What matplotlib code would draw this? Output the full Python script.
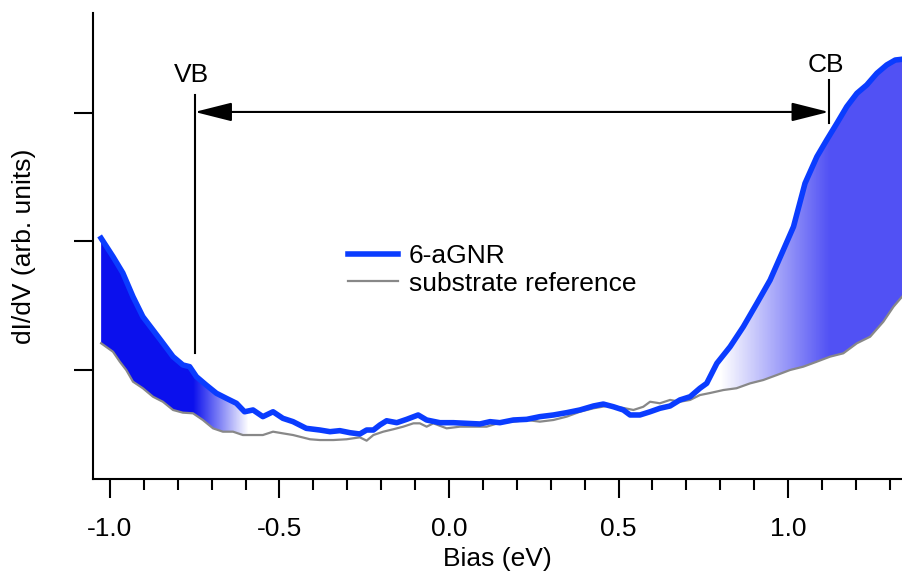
import matplotlib
matplotlib.use("Agg")
import matplotlib.pyplot as plt
import numpy as np
from matplotlib.patches import Polygon

plt.rcParams['font.family'] = ['Liberation Sans', 'DejaVu Sans']

# 6-aGNR spectrum (bias in eV, dI/dV in arb. units)
gnr_bias = [-1.026, -0.991, -0.962, -0.932, -0.903, -0.873, -0.844, -0.814, -0.785, -0.765,
            -0.745, -0.716, -0.686, -0.657, -0.627, -0.603, -0.578, -0.549, -0.519, -0.490,
            -0.460, -0.421, -0.381, -0.351, -0.322, -0.292, -0.263, -0.243, -0.223, -0.204,
            -0.184, -0.154, -0.125, -0.091, -0.066, -0.027, 0.013, 0.052, 0.091, 0.121,
            0.150, 0.190, 0.229, 0.268, 0.308, 0.347, 0.386, 0.426, 0.455, 0.485,
            0.514, 0.534, 0.563, 0.593, 0.622, 0.652, 0.681, 0.711, 0.740, 0.760,
            0.790, 0.829, 0.868, 0.908, 0.947, 0.986, 1.016, 1.050, 1.085, 1.114,
            1.144, 1.173, 1.203, 1.232, 1.262, 1.291, 1.316, 1.336]
gnr_didv = [2.025, 1.882, 1.755, 1.570, 1.415, 1.311, 1.210, 1.104, 1.039, 1.026,
            0.948, 0.883, 0.819, 0.780, 0.741, 0.675, 0.689, 0.637, 0.675, 0.624,
            0.598, 0.546, 0.533, 0.520, 0.528, 0.512, 0.502, 0.533, 0.533, 0.572,
            0.605, 0.590, 0.616, 0.650, 0.611, 0.590, 0.590, 0.585, 0.580, 0.598,
            0.590, 0.611, 0.616, 0.637, 0.650, 0.668, 0.689, 0.720, 0.735, 0.714,
            0.689, 0.650, 0.650, 0.675, 0.702, 0.720, 0.767, 0.792, 0.858, 0.896,
            1.052, 1.181, 1.337, 1.519, 1.700, 1.934, 2.115, 2.453, 2.660, 2.790,
            2.920, 3.049, 3.153, 3.218, 3.309, 3.374, 3.412, 3.418]

# substrate reference spectrum
sub_bias = [-1.026, -0.991, -0.971, -0.952, -0.932, -0.903, -0.873, -0.844, -0.814, -0.785,
            -0.755, -0.726, -0.696, -0.667, -0.637, -0.608, -0.578, -0.549, -0.519, -0.490,
            -0.460, -0.410, -0.381, -0.341, -0.302, -0.263, -0.243, -0.223, -0.194, -0.164,
            -0.135, -0.105, -0.086, -0.066, -0.046, -0.007, 0.032, 0.072, 0.111, 0.150,
            0.190, 0.229, 0.268, 0.308, 0.347, 0.386, 0.426, 0.465, 0.504, 0.544,
            0.573, 0.593, 0.622, 0.652, 0.681, 0.711, 0.740, 0.770, 0.809, 0.848,
            0.888, 0.927, 0.967, 1.006, 1.045, 1.085, 1.124, 1.163, 1.203, 1.242,
            1.281, 1.311, 1.336]
sub_didv = [1.208, 1.142, 1.065, 1.000, 0.909, 0.858, 0.792, 0.753, 0.689, 0.668,
            0.663, 0.611, 0.546, 0.520, 0.520, 0.494, 0.494, 0.494, 0.520, 0.507,
            0.494, 0.461, 0.455, 0.455, 0.461, 0.476, 0.450, 0.494, 0.520, 0.539,
            0.559, 0.585, 0.585, 0.559, 0.585, 0.546, 0.559, 0.559, 0.559, 0.590,
            0.598, 0.611, 0.598, 0.611, 0.637, 0.675, 0.702, 0.720, 0.710, 0.689,
            0.714, 0.753, 0.741, 0.767, 0.753, 0.767, 0.805, 0.821, 0.844, 0.858,
            0.896, 0.922, 0.961, 1.000, 1.026, 1.065, 1.104, 1.130, 1.208, 1.259,
            1.376, 1.493, 1.570]

vb_edge = -0.755
cb_edge = 1.12
fs = 19

fig = plt.figure(figsize=(9.02, 5.75), dpi=100)
ax = fig.add_axes([0.1031, 0.1670, 0.8969, 0.8104])
xmin, xmax = -1.050, 1.336
ymin, ymax = 0.152, 3.778

# shaded region between the two spectra, with colour gradients
xs = np.linspace(xmin, xmax, 800)
rgba = np.zeros((1, len(xs), 4))
left_c = np.array([0.047, 0.063, 0.933])
right_c = np.array([0.32, 0.32, 0.96])
for i, x in enumerate(xs):
    if x <= vb_edge:
        rgba[0, i, :3], rgba[0, i, 3] = left_c, 1.0
    elif x <= -0.593:
        rgba[0, i, :3], rgba[0, i, 3] = left_c, 1 - (x - vb_edge) / (-0.593 - vb_edge)
    elif x < 0.80:
        rgba[0, i, :3], rgba[0, i, 3] = right_c, 0.0
    elif x < cb_edge:
        rgba[0, i, :3], rgba[0, i, 3] = right_c, (x - 0.80) / (cb_edge - 0.80)
    else:
        rgba[0, i, :3], rgba[0, i, 3] = right_c, 1.0

poly_pts = list(zip(gnr_bias, gnr_didv)) + list(zip(sub_bias[::-1], sub_didv[::-1]))
poly = Polygon(poly_pts, closed=True, facecolor='none', edgecolor='none')
ax.add_patch(poly)
im = ax.imshow(rgba, extent=[xmin, xmax, ymin, ymax], aspect='auto',
               interpolation='bilinear', zorder=1)
im.set_clip_path(poly)

ax.plot(sub_bias, sub_didv, color='#888888', lw=1.6, zorder=2, label='substrate reference')
ax.plot(gnr_bias, gnr_didv, color='#0a3cff', lw=4, zorder=3, label='6-aGNR')

ax.set_xlim(xmin, xmax)
ax.set_ylim(ymin, ymax)

# VB / CB markers and gap arrow
ax.plot([-0.75, -0.75], [1.132, 3.140], color='black', lw=1.5)
ax.plot([cb_edge, cb_edge], [2.922, 3.257], color='black', lw=1.5)
ax.annotate('', xy=(cb_edge, 3.008), xytext=(-0.75, 3.008),
            arrowprops=dict(arrowstyle='<|-|>,head_length=1.15,head_width=0.29',
                            mutation_scale=20, color='black', lw=1.5,
                            shrinkA=0, shrinkB=0))
ax.text(-0.76, 3.296, 'VB', ha='center', va='center', fontsize=fs)
ax.text(1.112, 3.374, 'CB', ha='center', va='center', fontsize=fs)

ax.spines['top'].set_visible(False)
ax.spines['right'].set_visible(False)
for s in ['left', 'bottom']:
    ax.spines[s].set_linewidth(1.5)

ax.set_xticks([-1.0, -0.5, 0.0, 0.5, 1.0])
ax.set_xticklabels(['-1.0', '-0.5', '0.0', '0.5', '1.0'])
ax.set_xticks(np.arange(-1.0, 1.35, 0.1), minor=True)
ax.set_yticks([1, 2, 3])
ax.set_yticklabels([])
ax.tick_params(which='major', direction='out', length=13.7, width=1.5, labelsize=fs, pad=14)
ax.tick_params(which='minor', direction='out', length=8, width=1.5)

ax.set_xlabel('Bias (eV)', fontsize=fs, labelpad=4)
ax.set_ylabel('dI/dV (arb. units)', fontsize=fs, labelpad=13)

h, l = ax.get_legend_handles_labels()
ax.legend(h[::-1], l[::-1], loc='upper left', bbox_to_anchor=(0.315, 0.504),
          frameon=False, fontsize=fs, handlelength=1.9, handletextpad=0.42,
          labelspacing=0.13, borderpad=0, borderaxespad=0)

fig.savefig('out.png', dpi=100)
